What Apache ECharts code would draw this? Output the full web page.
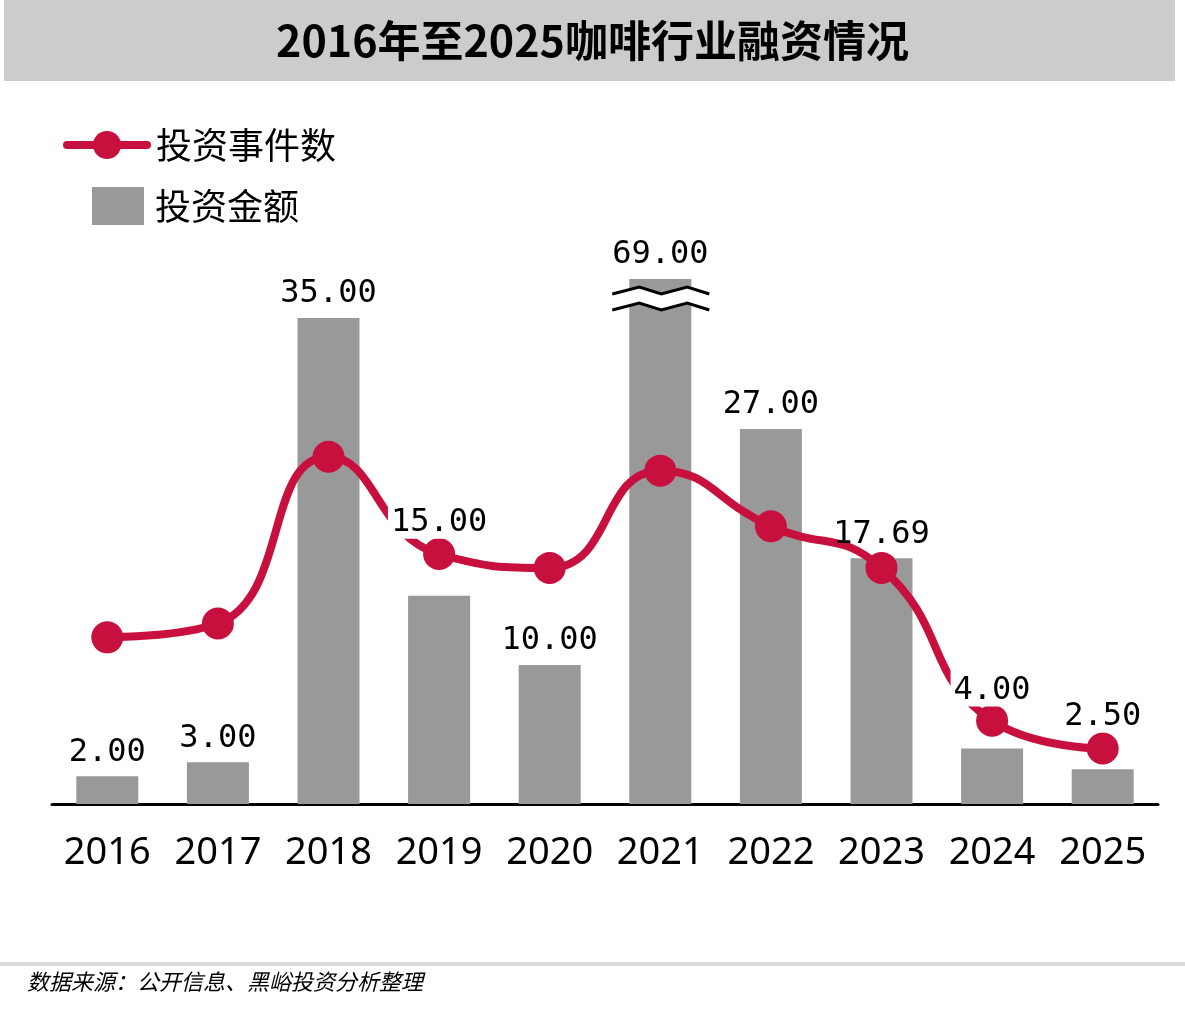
<!DOCTYPE html>
<html>
<head>
<meta charset="utf-8">
<script src="https://cdn.jsdelivr.net/npm/echarts@6/dist/echarts.min.js"></script>
<style>
  html, body { margin: 0; padding: 0; background: #fff; }
  #chart { width: 1185px; height: 1012px; }
</style>
</head>
<body>
<div id="chart"></div>
<script>
// 数据
var years = ['2016', '2017', '2018', '2019', '2020', '2021', '2022', '2023', '2024', '2025'];
var amounts = [2, 3, 35, 15, 10, 69, 27, 17.69, 4, 2.5];   // 投资金额
var events = [12, 13, 25, 18, 17, 24, 20, 17, 6, 4];        // 投资事件数

var axisMax = 37.8;   // 2021 超出部分截断显示
var red = '#c8103e';
var gray = '#999999';
var cjk = '"Noto Sans CJK SC", "Noto Sans", sans-serif';
var numFont = '"DejaVu Sans Mono", monospace';

// 几个标签往上挪，避开折线（带白底）
var labelLift = { '2019': -49, '2024': -34, '2025': -29 };

var myChart = echarts.init(document.getElementById('chart'));

// 标签单独放一层透明柱子，盖在折线上面
var labelData = amounts.map(function (v, i) {
    var item = { value: v };
    if (labelLift[years[i]]) {
        item.label = { offset: [0, labelLift[years[i]]], backgroundColor: '#fff' };
    }
    return item;
});

var option = {
    animation: false,
    backgroundColor: '#fff',
    title: {
        text: '2016年至2025咖啡行业融资情况',
        left: 'center',
        top: 14,
        textStyle: { fontFamily: cjk, fontSize: 43, fontWeight: 'bold', color: '#000' }
    },
    legend: [{
        data: ['投资事件数'],
        left: 58, top: 122,
        itemWidth: 80, itemHeight: 35,
        lineStyle: { width: 8, cap: 'round' },
        textStyle: { fontFamily: cjk, fontSize: 36, color: '#000', padding: [0, 0, 0, 4] }
    }, {
        data: ['投资金额'],
        left: 87, top: 182,
        icon: 'rect',
        itemWidth: 52, itemHeight: 38,
        textStyle: { fontFamily: cjk, fontSize: 36, color: '#000', padding: [0, 0, 0, 6] }
    }],
    grid: { left: 52, right: 27, top: 279, bottom: 208 },
    xAxis: {
        type: 'category',
        data: years,
        axisTick: { show: false },
        axisLine: { lineStyle: { color: '#000', width: 3 } },
        axisLabel: { interval: 0, margin: 30, color: '#000', fontSize: 38, fontFamily: '"Noto Sans", sans-serif' }
    },
    yAxis: {
        type: 'value',
        min: 0, max: axisMax,
        show: false,
        splitLine: { show: false }
    },
    series: [{
        name: '投资金额',
        type: 'bar',
        data: amounts,
        barWidth: 62,
        clip: true,
        itemStyle: { color: gray },
        z: 2
    }, {
        name: '投资事件数',
        type: 'line',
        data: events,
        smooth: 0.5,
        symbol: 'circle',
        symbolSize: 32,
        lineStyle: { color: red, width: 8 },
        itemStyle: { color: red },
        z: 3
    }, {
        name: '金额标签',
        type: 'bar',
        data: labelData,
        barWidth: 62,
        barGap: '-100%',
        clip: true,
        silent: true,
        itemStyle: { color: 'rgba(0,0,0,0)' },
        label: {
            show: true,
            position: 'top',
            distance: 8,
            color: '#000',
            fontSize: 32,
            lineHeight: 32,
            fontFamily: numFont,
            padding: [5, 3, 0, 3],
            formatter: function (p) { return p.value.toFixed(2); }
        },
        z: 5
    }]
};

myChart.setOption(option);

// 2021 柱子上的截断符号
var cx = myChart.convertToPixel({ xAxisIndex: 0 }, '2021');
var topY = myChart.convertToPixel({ yAxisIndex: 0 }, axisMax);
var zig = [[-48, 0], [-21, -7], [1, 0], [27, -7], [49, 0]];
function pts(dy) {
    return zig.map(function (p) { return [cx + p[0], topY + 15 + dy + p[1]]; });
}
var upper = pts(0), lower = pts(16);
myChart.setOption({
    graphic: [{
        type: 'rect',
        shape: { x: 4, y: 0, width: 1171, height: 81 },
        style: { fill: '#cccccc' },
        z: -10
    }, {
        type: 'polygon',
        shape: { points: upper.concat(lower.slice().reverse()) },
        style: { fill: '#fff' },
        z: 100
    }, {
        type: 'polyline',
        shape: { points: upper },
        style: { stroke: '#000', lineWidth: 3, fill: null },
        z: 101
    }, {
        type: 'polyline',
        shape: { points: lower },
        style: { stroke: '#000', lineWidth: 3, fill: null },
        z: 101
    }, {
        type: 'rect',
        shape: { x: 0, y: 962, width: 1185, height: 4 },
        style: { fill: '#d9d9d9' }
    }, {
        type: 'text',
        left: 27, top: 971,
        style: {
            text: '数据来源：公开信息、黑峪投资分析整理',
            font: 'italic 22px ' + cjk,
            fill: '#000'
        }
    }]
});
</script>
</body>
</html>
